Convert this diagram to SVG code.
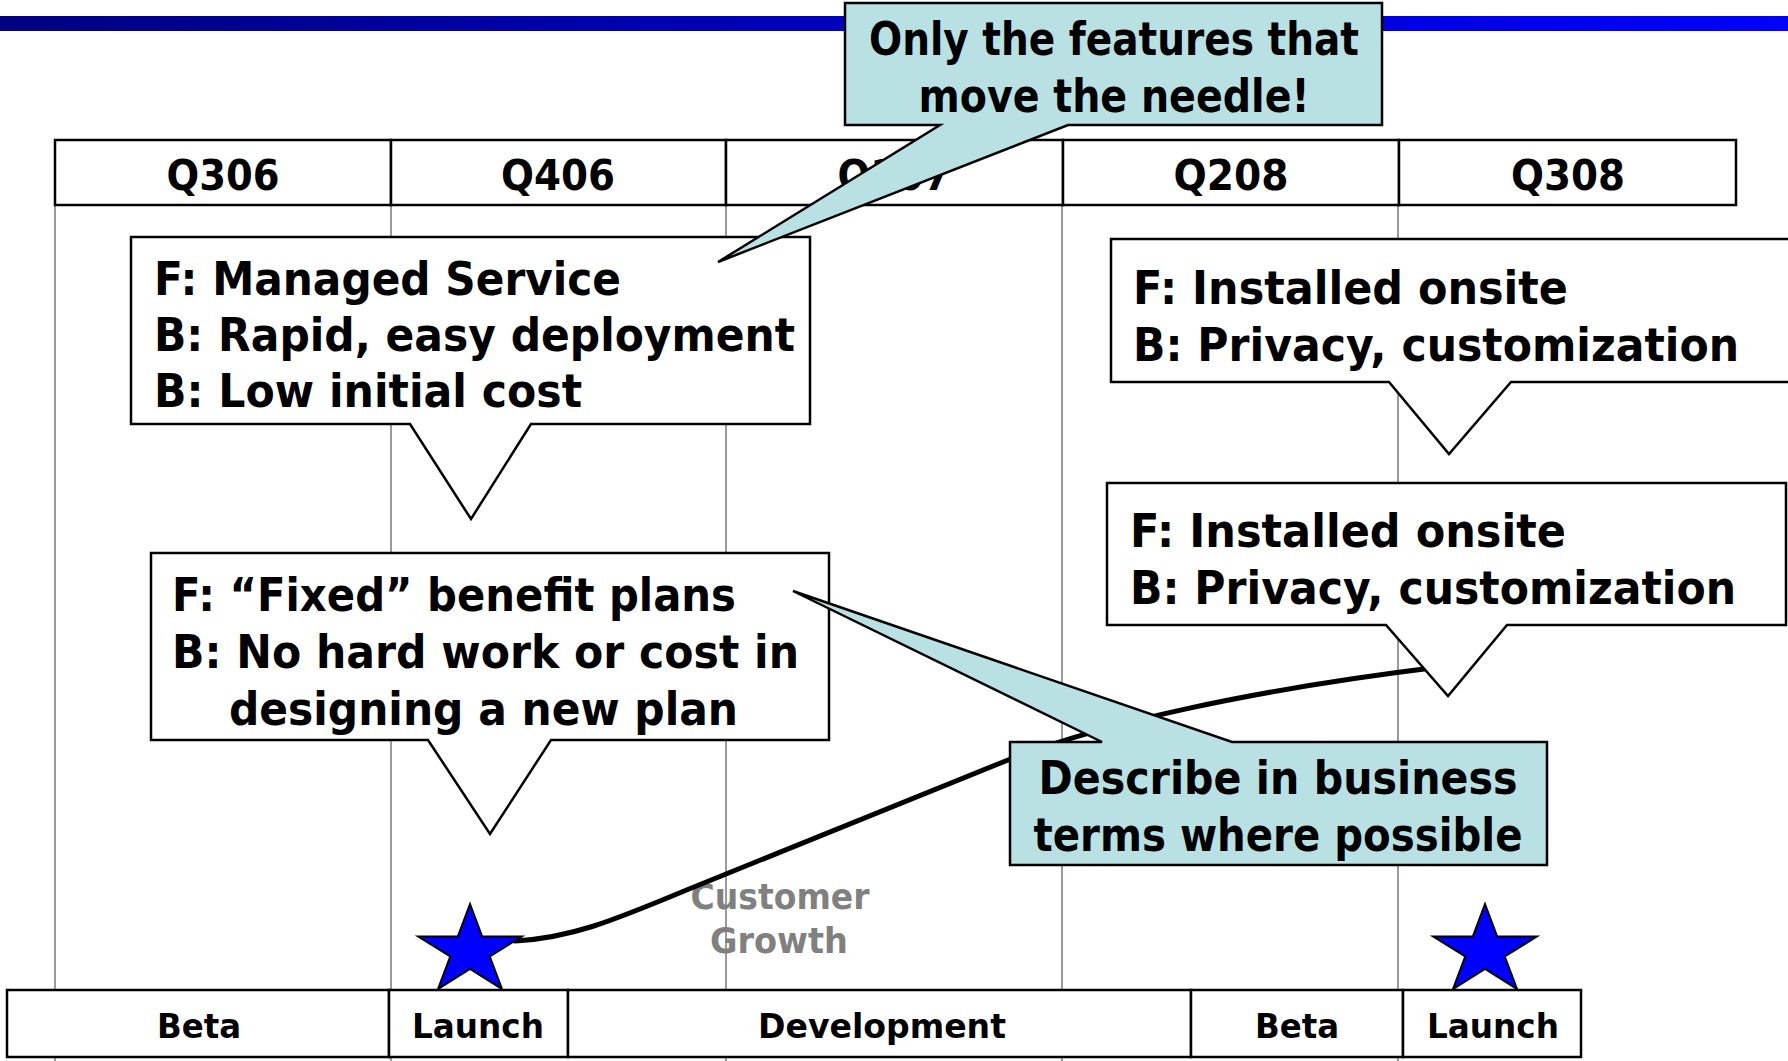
<svg xmlns="http://www.w3.org/2000/svg" width="1788" height="1061" viewBox="0 0 1788 1061">
  <defs>
    <linearGradient id="barGrad" x1="0" y1="0" x2="1" y2="0">
      <stop offset="0" stop-color="#000080"/>
      <stop offset="1" stop-color="#0000FF"/>
    </linearGradient>
    <style>
      .txt { font-family: "DejaVu Sans", Verdana, sans-serif; font-weight: bold; fill: #000; }
      .big { font-size: 46px; }
      .head { font-size: 43px; text-anchor: middle; }
      .cell { font-size: 34px; text-anchor: middle; }
      .grow { font-size: 35px; fill: #808080; text-anchor: middle; }
      .grid { stroke: #9a9a9a; stroke-width: 2; fill: none; }
      .frame { fill: #fff; stroke: #000; stroke-width: 2.5; }
      .bubble { fill: #fff; stroke: #000; stroke-width: 2.5; stroke-linejoin: miter; }
      .note { fill: #B9E0E3; stroke: #000; stroke-width: 2.5; stroke-linejoin: miter; }
      .star { fill: #0000FF; stroke: #000; stroke-width: 2; stroke-linejoin: miter; }
      .curve { fill: none; stroke: #000; stroke-width: 5; stroke-linecap: round; }
    </style>
  </defs>

  <rect x="0" y="0" width="1788" height="1061" fill="#fff"/>

  <!-- title rule -->
  <rect id="title-bar" x="0" y="16" width="1788" height="15" fill="url(#barGrad)"/>

  <!-- quarter grid lines -->
  <g id="grid">
    <line class="grid" x1="55" y1="205" x2="55" y2="1061"/>
    <line class="grid" x1="391" y1="205" x2="391" y2="1061"/>
    <line class="grid" x1="726" y1="205" x2="726" y2="1061"/>
    <line class="grid" x1="1062" y1="205" x2="1062" y2="1061"/>
    <line class="grid" x1="1398" y1="205" x2="1398" y2="1061"/>
  </g>

  <!-- quarter header row -->
  <g id="quarters">
    <rect class="frame" x="55" y="140" width="336" height="65"/>
    <rect class="frame" x="391" y="140" width="335" height="65"/>
    <rect class="frame" x="726" y="140" width="337" height="65"/>
    <rect class="frame" x="1063" y="140" width="336" height="65"/>
    <rect class="frame" x="1399" y="140" width="337" height="65"/>
    <text class="txt head" x="223" y="190" textLength="113" lengthAdjust="spacingAndGlyphs">Q306</text>
    <text class="txt head" x="558" y="190" textLength="114" lengthAdjust="spacingAndGlyphs">Q406</text>
    <text class="txt head" x="894" y="190" textLength="113" lengthAdjust="spacingAndGlyphs">Q107</text>
    <text class="txt head" x="1231" y="190" textLength="115" lengthAdjust="spacingAndGlyphs">Q208</text>
    <text class="txt head" x="1568" y="190" textLength="114" lengthAdjust="spacingAndGlyphs">Q308</text>
  </g>

  <!-- phase row -->
  <g id="phases">
    <rect class="frame" x="7" y="990" width="382" height="67"/>
    <rect class="frame" x="389" y="990" width="179" height="67"/>
    <rect class="frame" x="568" y="990" width="623" height="67"/>
    <rect class="frame" x="1191" y="990" width="212" height="67"/>
    <rect class="frame" x="1403" y="990" width="178" height="67"/>
    <text class="txt cell" x="199" y="1038" textLength="84" lengthAdjust="spacingAndGlyphs">Beta</text>
    <text class="txt cell" x="478" y="1038" textLength="132" lengthAdjust="spacingAndGlyphs">Launch</text>
    <text class="txt cell" x="882" y="1038" textLength="248" lengthAdjust="spacingAndGlyphs">Development</text>
    <text class="txt cell" x="1297" y="1038" textLength="84" lengthAdjust="spacingAndGlyphs">Beta</text>
    <text class="txt cell" x="1493" y="1038" textLength="132" lengthAdjust="spacingAndGlyphs">Launch</text>
  </g>

  <!-- curve label -->
  <g id="growth-label">
    <text class="txt grow" x="780" y="909" textLength="179" lengthAdjust="spacingAndGlyphs">Customer</text>
    <text class="txt grow" x="779" y="953" textLength="138" lengthAdjust="spacingAndGlyphs">Growth</text>
  </g>

  <!-- release 1 feature bubble -->
  <g id="managed-service">
    <path class="bubble" d="M131,237 H810 V424 H531 L471,519 L410,424 H131 Z"/>
    <text class="txt big" x="154" y="295" textLength="467" lengthAdjust="spacingAndGlyphs">F: Managed Service</text>
    <text class="txt big" x="154" y="351" textLength="641" lengthAdjust="spacingAndGlyphs">B: Rapid, easy deployment</text>
    <text class="txt big" x="154" y="407" textLength="428" lengthAdjust="spacingAndGlyphs">B: Low initial cost</text>
  </g>

  <!-- release 2 feature bubble (upper) -->
  <g id="installed-onsite-1">
    <path class="bubble" d="M1111,239 H1800 V382 H1511 L1449,454 L1389,382 H1111 Z"/>
    <text class="txt big" x="1133" y="304" textLength="435" lengthAdjust="spacingAndGlyphs">F: Installed onsite</text>
    <text class="txt big" x="1133" y="361" textLength="606" lengthAdjust="spacingAndGlyphs">B: Privacy, customization</text>
  </g>

  <!-- release 1 benefit plans bubble -->
  <g id="fixed-plans">
    <path class="bubble" d="M151,553 H829 V740 H551 L490,834 L428,740 H151 Z"/>
    <text class="txt big" x="172" y="611" textLength="564" lengthAdjust="spacingAndGlyphs">F: “Fixed” benefit plans</text>
    <text class="txt big" x="172" y="668" textLength="627" lengthAdjust="spacingAndGlyphs">B: No hard work or cost in</text>
    <text class="txt big" x="229" y="725" textLength="509" lengthAdjust="spacingAndGlyphs">designing a new plan</text>
  </g>

  <!-- customer growth curve -->
  <g id="connectors">
    <path class="curve" d="M515,941 C570,938 610,922 689,889 L1008,760 C1100,724 1250,690 1440,667"/>
  </g>

  <!-- launch markers -->
  <g id="launch-star-1">
    <polygon class="star" points="470,904 482.2,936.5 521.8,936.5 489.8,956.5 502,989 470,969 438,989 450.2,956.5 418.2,936.5 457.8,936.5"/>
  </g>
  <g id="launch-star-2">
    <polygon class="star" points="1485,904 1497.2,936.5 1536.8,936.5 1504.8,956.5 1517,989 1485,969 1453,989 1465.2,956.5 1433.2,936.5 1472.8,936.5"/>
  </g>

  <!-- release 2 feature bubble (lower) -->
  <g id="installed-onsite-2">
    <path class="bubble" d="M1107,483 H1786 V625 H1507 L1448,696 L1386,625 H1107 Z"/>
    <text class="txt big" x="1130" y="547" textLength="436" lengthAdjust="spacingAndGlyphs">F: Installed onsite</text>
    <text class="txt big" x="1130" y="604" textLength="606" lengthAdjust="spacingAndGlyphs">B: Privacy, customization</text>
  </g>

  <!-- advice notes -->
  <g id="note-business-terms">
    <path class="note" d="M1010,742 H1102 L793,591 L1232,742 H1547 V865 H1010 Z"/>
    <text class="txt big" x="1278" y="794" text-anchor="middle" textLength="479" lengthAdjust="spacingAndGlyphs">Describe in business</text>
    <text class="txt big" x="1278" y="851" text-anchor="middle" textLength="489" lengthAdjust="spacingAndGlyphs">terms where possible</text>
  </g>

  <g id="note-move-needle">
    <path class="note" d="M845,3 H1382 V125 H1068 L718,262 L940,125 H845 Z"/>
    <text class="txt big" x="1114" y="55" text-anchor="middle" textLength="490" lengthAdjust="spacingAndGlyphs">Only the features that</text>
    <text class="txt big" x="1114" y="112" text-anchor="middle" textLength="391" lengthAdjust="spacingAndGlyphs">move the needle!</text>
  </g>
</svg>
